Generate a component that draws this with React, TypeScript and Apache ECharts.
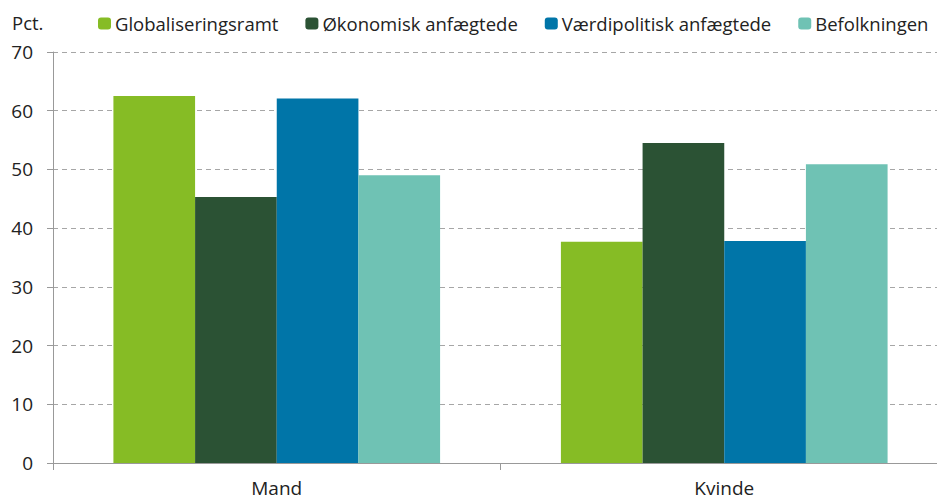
import React, { useEffect, useRef } from "react";
import * as echarts from "echarts";

const categories = ["Mand", "Kvinde"];
const seriesNames = ["Globaliseringsramt", "Økonomisk anfægtede", "Værdipolitisk anfægtede", "Befolkningen"];
const globaliseringsramt = [62.5, 37.7];
const oekonomisk = [45.3, 54.5];
const vaerdipolitisk = [62.1, 37.8];
const befolkningen = [49.0, 50.9];
const colors = ["#86bc25", "#2b5234", "#0075a8", "#6fc2b4"];

export default function App() {
  const ref = useRef<HTMLDivElement>(null);
  useEffect(() => {
    const chart = echarts.init(ref.current!, null, { renderer: "svg" });
    const values = [globaliseringsramt, oekonomisk, vaerdipolitisk, befolkningen];
    chart.setOption({
      animation: false,
      textStyle: { fontFamily: "Open Sans" },
      legend: {
        top: 14,
        left: 98,
        padding: 0,
        itemWidth: 13,
        itemHeight: 12,
        itemGap: 27,
        textStyle: { fontSize: 18.5, color: "#222", fontFamily: "Open Sans", padding: [0, 0, 0, -1] },
        data: seriesNames,
      },
      graphic: [
        { type: "text", left: 12, top: 13, style: { text: "Pct.", fontSize: 18.5, fill: "#222", fontFamily: "Open Sans" } },
      ],
      grid: { left: 53, width: 895, top: 52, bottom: 37 },
      xAxis: {
        type: "category",
        data: categories,
        axisLine: { lineStyle: { color: "#999" } },
        axisTick: { show: true, length: 7, lineStyle: { color: "#999" } },
        axisLabel: { fontSize: 19, color: "#222", margin: 15 },
      },
      yAxis: {
        type: "value",
        min: 0,
        max: 70,
        interval: 10,
        axisLine: { show: true, lineStyle: { color: "#999" } },
        axisTick: { show: true, length: 6, lineStyle: { color: "#999" } },
        axisLabel: { fontSize: 19, color: "#222", margin: 20 },
        splitLine: { lineStyle: { color: "#a6a6a6", type: [5, 4] } },
      },
      series: seriesNames.map((name, i) => ({
        name,
        type: "bar",
        data: values[i],
        barGap: "0%",
        barCategoryGap: "27%",
        itemStyle: { color: colors[i] },
      })),
    });
    return () => chart.dispose();
  }, []);
  return (
    <div style={{ position: "absolute", left: 0, top: 0, width: 937, height: 500, overflow: "hidden" }}>
      <div ref={ref} style={{ width: 960, height: 500 }} />
    </div>
  );
}
